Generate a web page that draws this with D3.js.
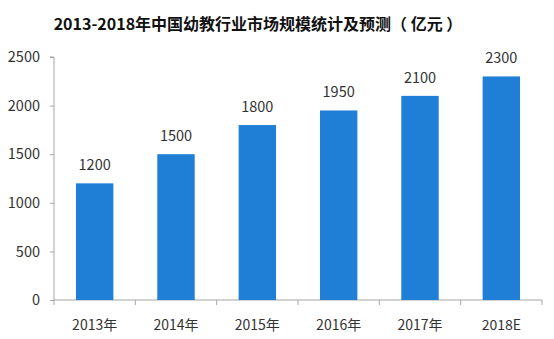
<!DOCTYPE html>
<html><head><meta charset="utf-8">
<script src="https://cdn.jsdelivr.net/npm/d3@7/dist/d3.min.js"></script>
<style>body{margin:0;background:#fff;}svg{display:block;}</style>
</head><body>
<script>
const categories = ["2013年","2014年","2015年","2016年","2017年","2018E"];
const values = [1200,1500,1800,1950,2100,2300];
const yTicks = [0,500,1000,1500,2000,2500];
const title = "2013-2018年中国幼教行业市场规模统计及预测（ 亿元 ）";

const W=554,H=339;
const m={l:54,r:12,t:57,b:39};
const svg=d3.select("body").append("svg").attr("width",W).attr("height",H);
const font='"Microsoft YaHei","Noto Sans CJK SC",sans-serif';
const x=d3.scaleBand().domain(categories).range([m.l,W-m.r]).paddingInner(0.54).paddingOuter(0.27);
const y=d3.scaleLinear().domain([0,2500]).range([H-m.b,m.t]);
const axisColor="#a6a6a6", textColor="#333";

svg.append("text").attr("x",258).attr("y",30).attr("text-anchor","middle")
  .attr("font-family",font).attr("font-weight","bold").attr("font-size",16).attr("fill","#111").text(title);

// y axis
const ya=svg.append("g").attr("transform",`translate(${m.l},0)`)
  .call(d3.axisLeft(y).tickValues(yTicks).tickSize(4).tickPadding(10).tickFormat(d3.format("d")));
ya.select(".domain").attr("stroke",axisColor).attr("d",`M-4,${y(2500)}H0V${y(0)}`);
ya.selectAll(".tick line").attr("stroke",axisColor);
ya.selectAll("text").attr("font-family",font).attr("font-size",14.5).attr("fill",textColor);

// x axis
const xa=svg.append("g").attr("transform",`translate(0,${y(0)})`)
  .call(d3.axisBottom(x).tickSize(0).tickPadding(20));
xa.select(".domain").attr("stroke",axisColor).attr("d",`M${m.l},0H${W-m.r}`);
xa.selectAll("text").attr("font-family",font).attr("font-size",14).attr("fill",textColor);
const bounds=d3.range(categories.length+1).map(i=>m.l+i*(W-m.l-m.r)/categories.length);
xa.selectAll(".bt").data(bounds).enter().append("line").attr("class","bt")
  .attr("x1",d=>d).attr("x2",d=>d).attr("y1",0).attr("y2",5).attr("stroke",axisColor);

// bars
svg.selectAll(".bar").data(values).enter().append("rect")
  .attr("x",(d,i)=>x(categories[i])).attr("width",x.bandwidth())
  .attr("y",d=>y(d)).attr("height",d=>y(0)-y(d)).attr("fill","#1f7fd6");
svg.selectAll(".lbl").data(values).enter().append("text")
  .attr("x",(d,i)=>x(categories[i])+x.bandwidth()/2).attr("y",d=>y(d)-13)
  .attr("text-anchor","middle").attr("font-family",font).attr("font-size",14.5).attr("fill",textColor).text(d=>d);
</script>
</body></html>
